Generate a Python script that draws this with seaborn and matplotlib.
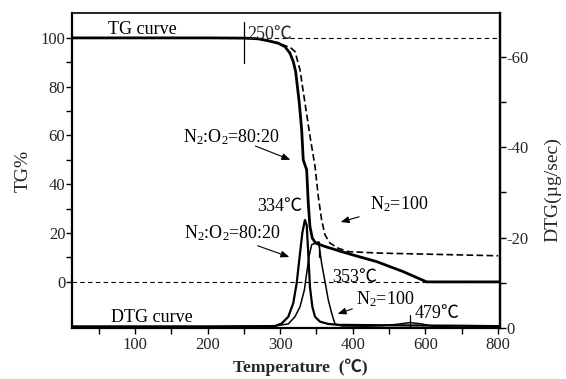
import matplotlib
matplotlib.use("Agg")
import matplotlib.pyplot as plt
import seaborn as sns
from matplotlib.ticker import FixedLocator, NullFormatter

# ---- TG (%) vs temperature (°C) ----
temp_tg_o2 = [13, 100, 200, 251, 270, 283.6, 297.4, 306.6, 313.5, 318, 321.3, 326.3,
              329.6, 331.8, 336.5, 338.7, 341, 344.3, 348.9, 361.7, 384.7, 403, 433,
              469.6, 501.8, 603]
tg_o2 = [100, 100, 100, 99.9, 99.6, 98.8, 97.8, 96.4, 93.7, 90.3, 86.2, 73.4,
         62.3, 50.0, 45.9, 32.3, 22.7, 17.9, 15.9, 14.5, 12.4, 10.8, 8.3,
         4.2, 0.0, 0.0]

temp_tg_n2 = [13, 100, 200, 251, 270, 283.6, 297.4, 306.6, 313.5, 320.4, 327.3, 334.2,
              341.1, 348, 352.5, 357.1, 361.7, 368.6, 380, 393.8, 437.5, 600.4]
tg_n2 = [100, 100, 100, 99.9, 99.6, 98.8, 97.9, 96.8, 96.2, 94.4, 86.9, 73.2,
         59.7, 47.3, 35.0, 25.4, 19.3, 15.9, 13.8, 12.4, 11.8, 10.7]

# ---- DTG (µg/sec) vs temperature (°C) ----
temp_dtg_o2 = [13, 100, 200, 280, 292.8, 302, 311.2, 318, 322.7, 327.3, 330.5, 334,
               336.5, 338.7, 341, 344.3, 348, 354.8, 366.3, 380, 450, 550, 603]
dtg_o2 = [-0.35, -0.35, -0.35, -0.4, -0.44, -1.0, -2.5, -5.5, -9.9, -16.5, -21.0, -23.9,
          -22.8, -16.5, -9.1, -4.7, -2.5, -1.4, -0.9, -0.7, -0.6, -0.5, -0.4]

temp_dtg_n2 = [13, 100, 200, 290, 311.2, 320.4, 327.3, 333.3, 336.5, 339.7, 343.3, 353,
               357.1, 361.7, 366.3, 370.9, 375.5, 384.7, 420, 440, 460, 479, 495, 510,
               540, 603]
dtg_n2 = [-0.3, -0.3, -0.3, -0.4, -0.9, -2.5, -4.7, -8.4, -12.1, -15.8, -18.4, -19.1,
          -14.3, -10.3, -6.2, -3.3, -0.9, -0.45, -0.4, -0.5, -0.8, -1.2, -0.9, -0.4,
          -0.2, -0.2]

# peak markers
onset_temp = 250
peak_temp_o2 = 334
peak_temp_n2 = 353
peak_temp_n2_second = 479

# axis ticks
x_tick_values = [100, 200, 300, 400, 500, 600]
x_tick_labels = ["100", "200", "300", "400", "600", "800"]
x_minor_values = [50, 150, 250, 350, 450, 550]
tg_ticks = [0, 20, 40, 60, 80, 100]
tg_minor = [10, 30, 50, 70, 90]
dtg_ticks = [0, -20, -40, -60]
dtg_minor = [-10, -30, -50]

sns.set_style("ticks")
plt.rcParams["font.family"] = ["Liberation Serif", "Noto Sans CJK SC"]
plt.rcParams["mathtext.fontset"] = "custom"
plt.rcParams["mathtext.rm"] = "Liberation Serif"
plt.rcParams["mathtext.it"] = "Liberation Serif:italic"
plt.rcParams["axes.unicode_minus"] = False

W, H = 566, 379
fig = plt.figure(figsize=(W / 100, H / 100), dpi=100)
ax = fig.add_axes([72 / W, 1 - 328 / H, 428 / W, 315 / H])
ax2 = ax.twinx()

# TG curves
sns.lineplot(x=temp_tg_o2, y=tg_o2, ax=ax, color="black", lw=2.0, estimator=None)
sns.lineplot(x=temp_tg_n2, y=tg_n2, ax=ax, color="black", lw=1.2, estimator=None,
             linestyle=(0, (4, 2)))
ax.axhline(100, color="black", lw=0.8, ls=(0, (4, 3)))
ax.axhline(0, color="black", lw=0.8, ls=(0, (4, 3)))

# DTG curves
sns.lineplot(x=temp_dtg_o2, y=dtg_o2, ax=ax2, color="black", lw=1.6, estimator=None)
sns.lineplot(x=temp_dtg_n2, y=dtg_n2, ax=ax2, color="black", lw=1.1, estimator=None)

# peak markers
ax.plot([onset_temp, onset_temp], [89.8, 106.6], color="black", lw=0.9)
n2_peak = dtg_n2[temp_dtg_n2.index(peak_temp_n2)]
ax2.plot([peak_temp_n2, peak_temp_n2], [n2_peak, -15.7], color="black", lw=0.9)
ax2.plot([peak_temp_n2_second, peak_temp_n2_second], [0, -2.9], color="black", lw=0.9)

ax.set_xlim(13, 603)
ax.set_ylim(-18.9, 110.2)
ax2.set_ylim(0, -69.7)

ax.xaxis.set_major_locator(FixedLocator(x_tick_values))
ax.set_xticklabels(x_tick_labels)
ax.xaxis.set_minor_locator(FixedLocator(x_minor_values))
ax.yaxis.set_major_locator(FixedLocator(tg_ticks))
ax.yaxis.set_minor_locator(FixedLocator(tg_minor))
ax2.yaxis.set_major_locator(FixedLocator(dtg_ticks))
ax2.yaxis.set_minor_locator(FixedLocator(dtg_minor))
ax2.yaxis.set_minor_formatter(NullFormatter())

for a in (ax, ax2):
    a.tick_params(which="both", direction="out", length=4, width=1.0,
                  color="black", labelsize=12, pad=0.8)
ax.tick_params(axis="x", pad=2.5)
for name, sp in ax2.spines.items():
    sp.set_visible(name in ("right",))
    sp.set_linewidth(1.6)
for name, sp in ax.spines.items():
    sp.set_color("black")
    sp.set_linewidth(1.2 if name == "top" else 1.6)
ax2.spines["right"].set_color("black")

ax.set_xlabel("Temperature  (℃)", fontsize=12.5, fontweight="bold")
ax.xaxis.set_label_coords(0.533, -0.097)
ax.set_ylabel("TG%", fontsize=14, labelpad=6)
ax2.set_ylabel("DTG(µg/sec)", fontsize=14)
ax2.yaxis.set_label_coords(1.103, 0.44)

# annotations (placed in temperature / TG% coordinates)
txt = dict(fontsize=13, color="black", ha="center", va="center")
arrow = dict(arrowstyle="-|>,head_length=0.5,head_width=0.2", color="black", lw=0.8)
ax.text(110, 103.3, "TG curve", **txt)
ax.text(255, 101.4, "250℃", fontsize=13, ha="left", va="center")
ax.annotate("", xy=(317.6, 49.6), xytext=(262.3, 56.1), arrowprops=arrow)
ax.text(232.5, 59.4, r"N$_2$:O$_2$=80:20", **txt)
ax.text(299.7, 30.7, "334℃", **txt)
ax.text(235, 20.1, r"N$_2$:O$_2$=80:20", **txt)
ax.annotate("", xy=(316.2, 9.8), xytext=(265.3, 15.2), arrowprops=arrow)
ax.text(463.5, 32.0, r"N$_2$=100", **txt)
ax.annotate("", xy=(379.6, 24.2), xytext=(412.5, 27.0), arrowprops=arrow)
ax.text(403, 2.0, "353℃", **txt)
ax.text(444.3, -7.0, r"N$_2$=100", **txt)
ax.annotate("", xy=(375.5, -13.5), xytext=(403, -10.7), arrowprops=arrow)
ax.text(516, -13.1, "479℃", **txt)
ax.text(123.4, -14.8, "DTG curve", **txt)

fig.savefig("out.png", dpi=100)
